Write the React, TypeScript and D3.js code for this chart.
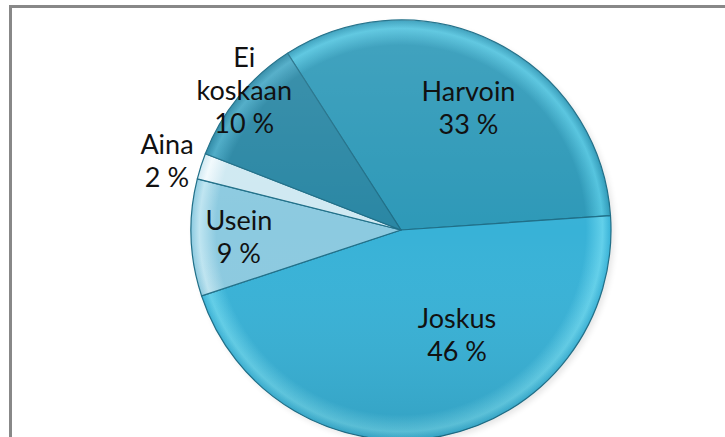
import React from 'react';
import * as d3 from 'd3';

// slice data, clockwise from the Harvoin / Ei koskaan boundary
const categories = ['Harvoin', 'Joskus', 'Usein', 'Aina', 'Ei koskaan'];
const values = [33, 46, 9, 2, 10];
const labelLines = [['Harvoin', '33 %'], ['Joskus', '46 %'], ['Usein', '9 %'], ['Aina', '2 %'], ['Ei', 'koskaan', '10 %']];

const width = 725;
const height = 437;
const cx = 401;
const cy = 230;
const radius = 210;
const startDeg = -32.7;

// colour per slice: base, rim highlight
const colors: Record<string, [string, string]> = {
  'Harvoin': ['#2e99b8', '#52c3de'],
  'Joskus': ['#38b2d7', '#62d0ea'],
  'Usein': ['#8ccae0', '#bfe5f1'],
  'Aina': ['#cfe9f2', '#f2fafd'],
  'Ei koskaan': ['#2a87a4', '#4aaac6'],
};

// where the first text line sits, relative to the label centroid
const labelNudge: Record<string, [number, number]> = {
  'Harvoin': [9, -13],
  'Joskus': [31, -30],
  'Usein': [-32, -5],
  'Aina': [-110, -36],
  'Ei koskaan': [-56, -81],
};

const data = categories.map((c, i) => ({ name: c, value: values[i], lines: labelLines[i] }));

export default function App() {
  const start = (startDeg * Math.PI) / 180;
  const pie = d3.pie<any>()
    .value((d) => d.value)
    .sort(null)
    .startAngle(start)
    .endAngle(start + Math.PI * 2);
  const arcs = pie(data);

  const arc = d3.arc<any>().innerRadius(0).outerRadius(radius);
  const labelArc = d3.arc<any>().innerRadius(radius * 0.62).outerRadius(radius * 0.62);

  return (
    <svg width={width} height={height} style={{ position: 'absolute', left: 0, top: 0, background: '#fff' }}>
      <defs>
        {data.map((d, i) => (
          <radialGradient key={i} id={'g' + i} gradientUnits="userSpaceOnUse" cx={0} cy={0} r={radius}>
            <stop offset="0%" stopColor={colors[d.name][0]} />
            <stop offset="88%" stopColor={colors[d.name][0]} />
            <stop offset="96%" stopColor={colors[d.name][1]} />
            <stop offset="100%" stopColor={colors[d.name][0]} />
          </radialGradient>
        ))}
        <linearGradient id="shade" x1="0" y1="0" x2="0" y2="1">
          <stop offset="0%" stopColor="#ffffff" stopOpacity={0.1} />
          <stop offset="50%" stopColor="#ffffff" stopOpacity={0} />
          <stop offset="100%" stopColor="#000000" stopOpacity={0.1} />
        </linearGradient>
        <filter id="shadow" x="-10%" y="-10%" width="120%" height="120%">
          <feGaussianBlur stdDeviation="3" />
        </filter>
      </defs>

      <path
        d={`M10.5,${height} V6.5 H${width}`}
        fill="none"
        stroke="#888"
        strokeWidth={3}
      />

      <g transform={`translate(${cx},${cy})`}>
        <circle cx={3} cy={3} r={radius} fill="#000" opacity={0.1} filter="url(#shadow)" />
        {arcs.map((a, i) => (
          <path
            key={i}
            d={arc(a) as string}
            fill={`url(#g${i})`}
            stroke="#1f6f88"
            strokeWidth={1.2}
            strokeLinejoin="round"
          />
        ))}
        <circle r={radius} fill="url(#shade)" />
        {arcs.map((a, i) => {
          const [lx, ly] = labelArc.centroid(a);
          const [nx, ny] = labelNudge[a.data.name];
          return (
            <text
              key={'t' + i}
              x={lx + nx}
              y={ly + ny}
              textAnchor="middle"
              fontFamily="Lato, 'Open Sans', sans-serif"
              fontSize={27}
              fill="#111"
            >
              {a.data.lines.map((l: string, j: number) => (
                <tspan key={j} x={lx + nx} dy={j === 0 ? 0 : 33}>{l}</tspan>
              ))}
            </text>
          );
        })}
      </g>
    </svg>
  );
}
